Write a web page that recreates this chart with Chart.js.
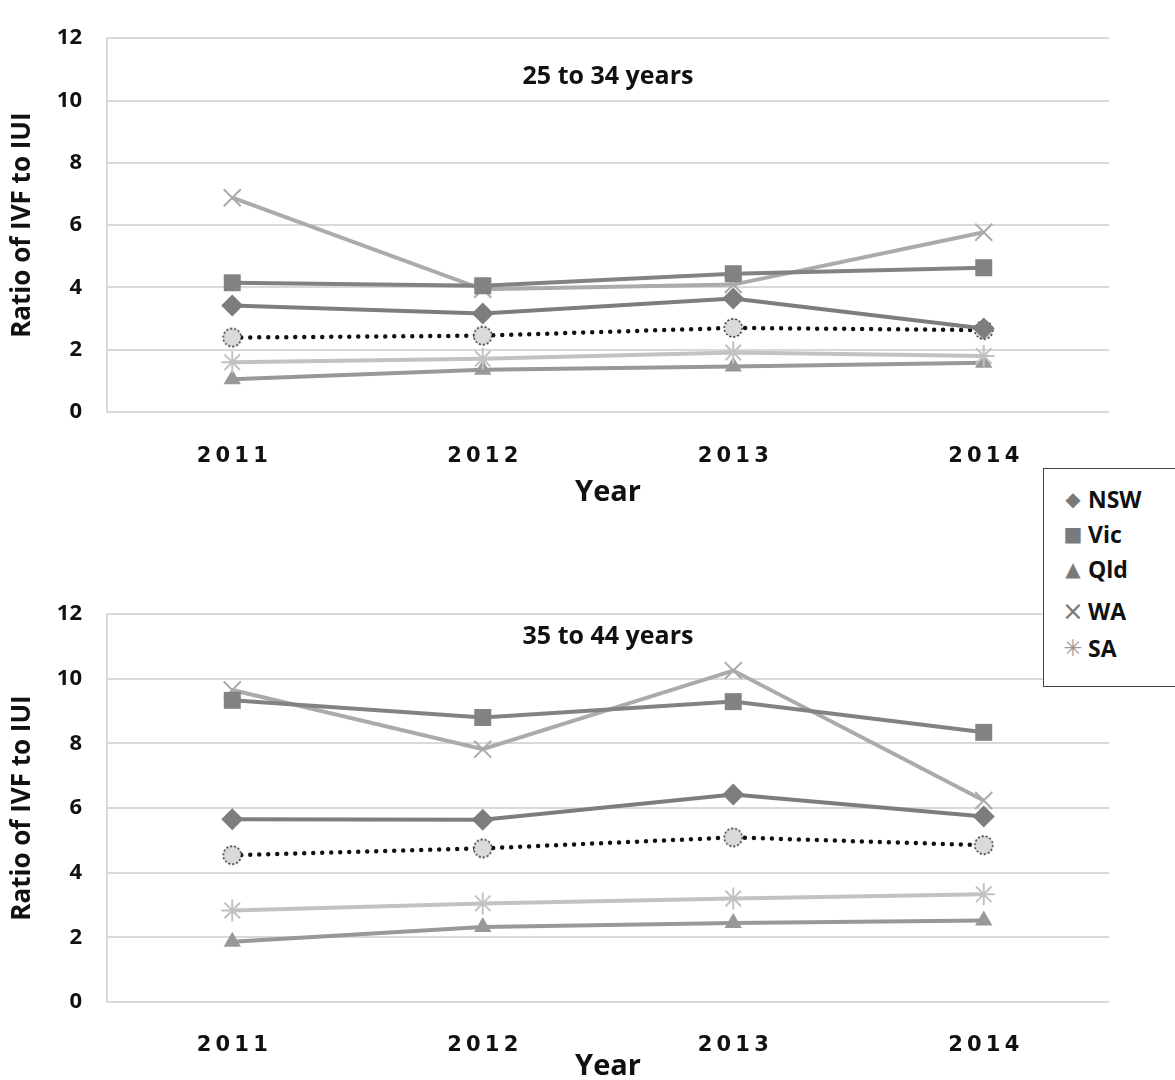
<!DOCTYPE html>
<html>
<head>
<meta charset="utf-8">
<script src="https://cdn.jsdelivr.net/npm/chart.js@4/dist/chart.umd.min.js"></script>
<style>
  html, body { margin: 0; padding: 0; background: #fff; overflow: hidden; }
  #wrap { position: relative; width: 1175px; height: 1080px; }
  #top { position: absolute; left: 0; top: 0; }
  #bottom { position: absolute; left: 0; top: 560px; }
  #legend {
    position: absolute; left: 1043px; top: 468px; width: 150px; height: 219px;
    border: 1.5px solid #444; background: #fff; box-sizing: border-box;
    font-family: "Open Sans", sans-serif; font-weight: bold; font-size: 23px; color: #111;
  }
  #legend div { position: absolute; left: 0; white-space: nowrap; line-height: 30px; }
  #legend span.sym { display: inline-block; width: 26px; text-align: center; color: #7a7a7a;
    font-family: "DejaVu Sans", sans-serif; margin-left: 16px; margin-right: 2px; vertical-align: top; }
</style>
</head>
<body>
<div id="wrap">
  <canvas id="top" width="1175" height="545"></canvas>
  <canvas id="bottom" width="1175" height="540"></canvas>
  <div id="legend">
    <div style="top:15px"><span class="sym" style="font-size:20px">&#9670;</span>NSW</div>
    <div style="top:50px"><span class="sym" style="font-size:20px">&#9632;</span>Vic</div>
    <div style="top:85px"><span class="sym" style="font-size:20px">&#9650;</span>Qld</div>
    <div style="top:127px"><span class="sym" style="font-size:26px;font-weight:normal">&#215;</span>WA</div>
    <div style="top:164px"><span class="sym" style="font-size:23px;font-weight:normal;color:#999">&#10035;</span>SA</div>
  </div>
</div>
<script>
// years on the x axis
const years = ['2011', '2012', '2013', '2014'];
const yTicks = [0, 2, 4, 6, 8, 10, 12];

// 25 to 34 years
const nswA = [3.42, 3.16, 3.64, 2.68];
const vicA = [4.15, 4.05, 4.44, 4.63];
const qldA = [1.05, 1.36, 1.46, 1.58];
const waA = [6.88, 3.94, 4.09, 5.77];
const saA = [1.6, 1.71, 1.91, 1.8];
const avgA = [2.39, 2.45, 2.7, 2.63];

// 35 to 44 years
const nswB = [5.65, 5.64, 6.42, 5.74];
const vicB = [9.33, 8.8, 9.29, 8.34];
const qldB = [1.86, 2.32, 2.44, 2.52];
const waB = [9.65, 7.82, 10.25, 6.23];
const saB = [2.83, 3.05, 3.2, 3.33];
const avgB = [4.54, 4.75, 5.09, 4.85];

const FONT = 'Open Sans';

// dotted grey circle used for the average line
function avgMarker() {
    const c = document.createElement('canvas');
    c.width = 22; c.height = 22;
    const g = c.getContext('2d');
    g.beginPath();
    g.arc(11, 11, 9, 0, Math.PI * 2);
    g.fillStyle = '#dadada';
    g.fill();
    g.setLineDash([2, 2]);
    g.lineWidth = 1.3;
    g.strokeStyle = '#111';
    g.stroke();
    return c;
}
const avgImg = avgMarker();

function series(label, data, color, style, radius, bw) {
    return {
        label: label,
        data: data,
        borderColor: color,
        backgroundColor: color,
        borderWidth: 4,
        pointStyle: style,
        pointRadius: radius,
        pointHoverRadius: radius,
        pointBorderColor: color,
        pointBackgroundColor: color,
        pointBorderWidth: bw,
        tension: 0,
    };
}

const panelTitle = {
    id: 'panelTitle',
    afterDraw(chart, args, opts) {
        const ctx = chart.ctx;
        const area = chart.chartArea;
        ctx.save();
        ctx.font = 'bold 25px "' + FONT + '", sans-serif';
        ctx.fillStyle = '#111';
        ctx.textAlign = 'center';
        ctx.textBaseline = 'middle';
        ctx.fillText(opts.text, (area.left + area.right) / 2, area.top + opts.offset);
        ctx.restore();
    }
};

function makeChart(id, d, cfg) {
    const ctx = document.getElementById(id).getContext('2d');
    return new Chart(ctx, {
        type: 'line',
        data: {
            labels: years,
            datasets: [
                series('SA', d.sa, '#c2c2c2', 'star', 11, 2),
                series('Qld', d.qld, '#989898', 'triangle', 10, 0),
                series('NSW', d.nsw, '#7d7d7d', 'rectRot', 11, 0),
                series('Vic', d.vic, '#828282', 'rect', 12, 0),
                series('WA', d.wa, '#ababab', 'crossRot', 12, 2),
                {
                    label: 'Average',
                    data: d.avg,
                    borderColor: '#111',
                    borderWidth: 4.5,
                    borderDash: [0, 9],
                    borderCapStyle: 'round',
                    pointStyle: avgImg,
                    pointRadius: 10,
                    tension: 0,
                },
            ],
        },
        options: {
            responsive: false,
            animation: false,
            layout: { padding: { left: 0, right: 66, top: cfg.padTop, bottom: 0 } },
            plugins: {
                legend: { display: false },
                tooltip: { enabled: false },
                panelTitle: { text: cfg.title, offset: cfg.titleOffset },
            },
            scales: {
                x: {
                    offset: true,
                    grid: { display: false },
                    border: { display: false },
                    ticks: {
                        padding: cfg.tickPad,
                        color: '#111',
                        font: { family: 'DejaVu Sans', weight: 'bold', size: 21 },
                        callback: function (v) { return this.getLabelForValue(v).split('').join('\u2009'); },
                    },
                    title: {
                        display: true,
                        text: 'Year',
                        color: '#111',
                        font: { family: FONT, weight: 'bold', size: 29 },
                        padding: { top: 0, bottom: cfg.yearPad },
                    },
                    afterFit: s => { s.height = cfg.xHeight; },
                },
                y: {
                    min: 0,
                    max: 12,
                    afterBuildTicks: s => { s.ticks = yTicks.map(v => ({ value: v })); },
                    grid: { color: '#d9d9d9', lineWidth: 2, drawTicks: false },
                    border: { display: true, color: '#d9d9d9', width: 2 },
                    ticks: {
                        padding: 25,
                        color: '#111',
                        font: { family: FONT, weight: 'bold', size: 22 },
                    },
                    title: {
                        display: true,
                        text: 'Ratio of IVF to IUI',
                        color: '#111',
                        font: { family: FONT, weight: 'bold', size: 26 },
                        padding: { top: 7, bottom: 0 },
                    },
                    afterFit: s => { s.width = 107; },
                },
            },
        },
        plugins: [panelTitle],
    });
}

makeChart('top',
    { nsw: nswA, vic: vicA, qld: qldA, wa: waA, sa: saA, avg: avgA },
    { title: '25 to 34 years', titleOffset: 39, padTop: 25, xHeight: 133, tickPad: 24, yearPad: 35 });

makeChart('bottom',
    { nsw: nswB, vic: vicB, qld: qldB, wa: waB, sa: saB, avg: avgB },
    { title: '35 to 44 years', titleOffset: 23, padTop: 54, xHeight: 98, tickPad: 23, yearPad: 16 });
</script>
</body>
</html>
